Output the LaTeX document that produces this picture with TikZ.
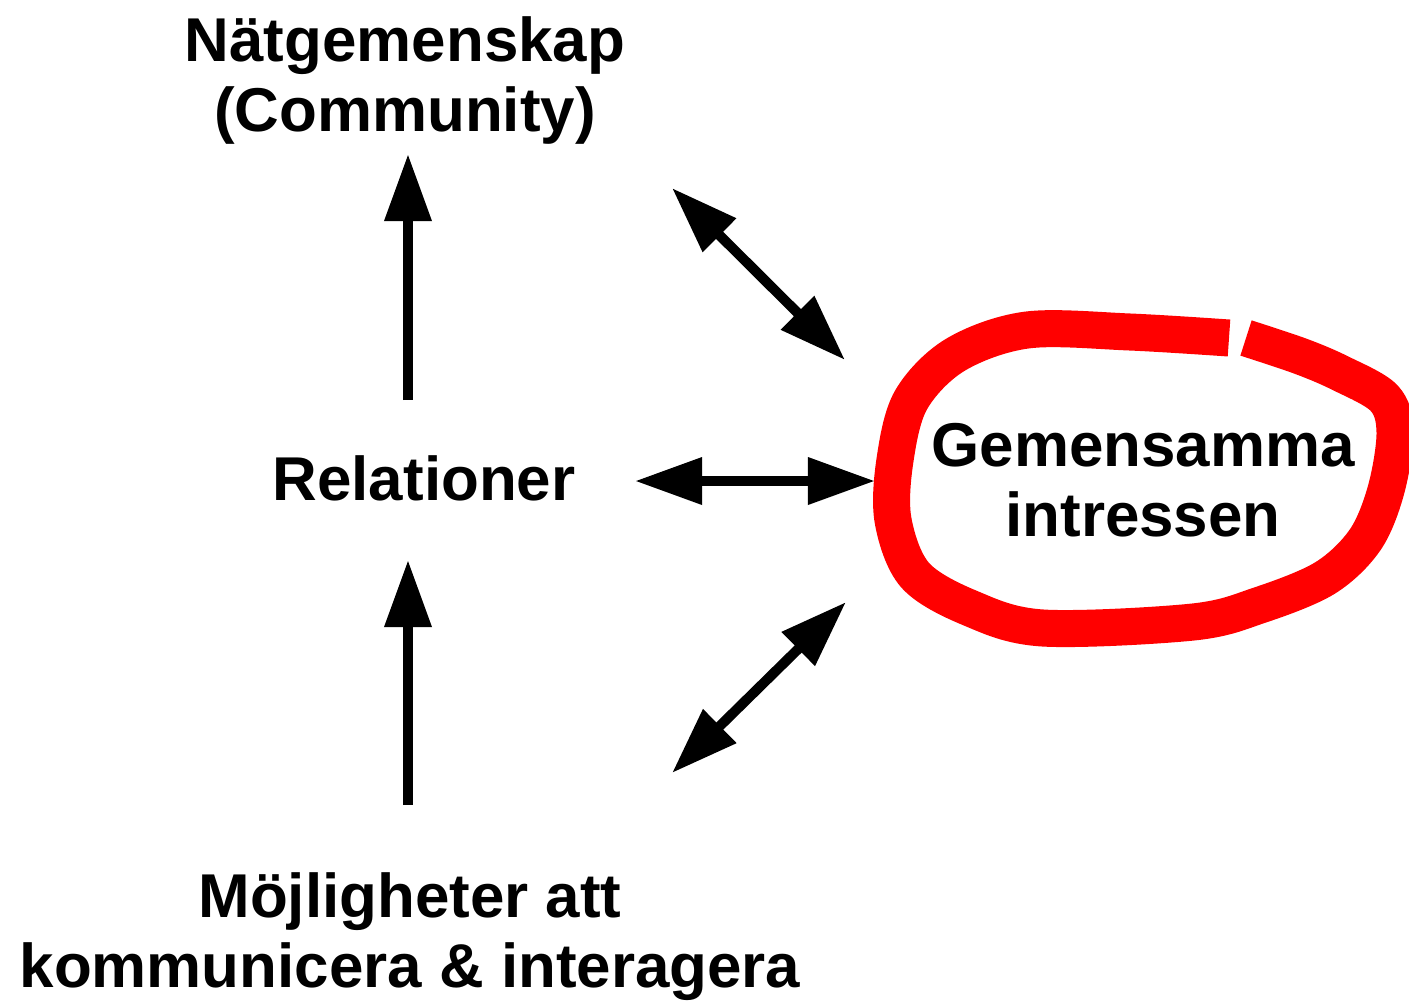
\documentclass[tikz,border=0pt]{standalone}
\usepackage{fontspec}
\setmainfont{Liberation Sans}
\usetikzlibrary{arrows.meta}

\begin{document}
\begin{tikzpicture}[
  x=0.01cm, y=-0.01cm,
  label/.style={align=center, inner sep=0pt, font=\bfseries\fontsize{17.6pt}{19.9pt}\selectfont},
  arrow/.style={-{Triangle[length=0.67cm,width=0.45cm]}, line width=0.1cm},
  biarrow/.style={{Triangle[length=0.67cm,width=0.45cm]}-{Triangle[length=0.67cm,width=0.45cm]}, line width=0.1cm},
  loop/.style={red, line width=0.37cm}
]
\useasboundingbox (0,0) rectangle (1409,1002);

% Texts
\node[label] (comm) at (405,80) {Nätgemenskap\\(Community)};
\node[label] (rel) at (424,478) {Relationer};
\node[label] (interest) at (1143,480) {Gemensamma\\intressen};
\node[label] (comm2) at (410,937) {Möjligheter att\\kommunicera \& interagera};

% Arrow ends
\coordinate (relup) at (408,400);
\coordinate (commdown) at (408,154);
\coordinate (reldown) at (408,560);
\coordinate (comm2up) at (408,805);
\coordinate (relright) at (635,481);
\coordinate (interestleft) at (875,481);
\coordinate (commright) at (672,188);
\coordinate (interestup) at (845,360);
\coordinate (comm2right) at (672,773);
\coordinate (interestdown) at (846,602);

% Arrows
\draw[arrow] (relup) -- (commdown);
\draw[arrow] (comm2up) -- (reldown);
\draw[biarrow] (relright) -- (interestleft);
\draw[biarrow] (commright) -- (interestup);
\draw[biarrow] (comm2right) -- (interestdown);

% Red loop round the interests
\draw[loop] plot[smooth, tension=0.55] coordinates {
  (1246,338) (1300,356) (1340,373) (1384,398) (1395,432) (1386,490)
  (1365,540) (1325,578) (1260,605) (1193,622) (1043,628) (970,608)
  (915,575) (893,520) (895,460) (911,400) (955,355) (1027,330)
  (1130,332) (1229,338)};

\end{tikzpicture}
\end{document}
